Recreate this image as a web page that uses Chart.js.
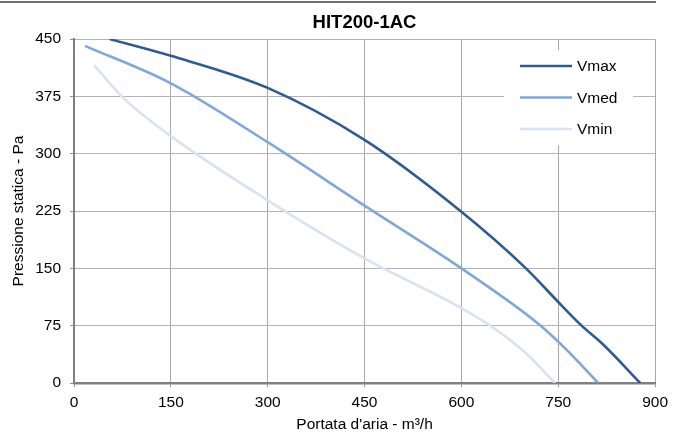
<!DOCTYPE html>
<html><head><meta charset="utf-8">
<script src="https://cdn.jsdelivr.net/npm/chart.js@4.4.0/dist/chart.umd.min.js"></script>
<style>html,body{margin:0;padding:0;background:#fff}#wrap{width:674px;height:435px}</style>
</head><body><div id="wrap"><canvas id="c" width="674" height="435"></canvas></div>
<script>
const chartTitle = 'HIT200-1AC';
const xTitle = "Portata d'aria - m³/h";
const yTitle = 'Pressione statica - Pa';
const seriesNames = ['Vmax', 'Vmed', 'Vmin'];
const xTicks = [0, 150, 300, 450, 600, 750, 900];
const yTicks = [0, 75, 150, 225, 300, 375, 450];

const vmaxFlow = [55, 150, 300, 450, 600, 700, 750, 785, 820, 877];
const vmaxPress = [450, 428, 386, 318, 224, 150, 106, 76, 50, 0];
const vmedFlow = [17, 150, 300, 450, 600, 720, 760, 812];
const vmedPress = [441, 392, 315, 232, 150, 77, 46, 0];
const vminFlow = [31, 75, 150, 300, 450, 600, 650, 700, 745];
const vminPress = [416, 374, 323, 239, 163, 98, 72, 39, 0];

const colors = ['#2f5b94', '#7ea7de', '#d7e3f3'];
const FONT = '"Liberation Sans", Arial, sans-serif';

const toPts = (xs, ys) => xs.map((x, i) => ({x: x, y: ys[i]}));
const flows = [vmaxFlow, vmedFlow, vminFlow];
const press = [vmaxPress, vmedPress, vminPress];

const datasets = seriesNames.map((n, i) => ({
  label: n,
  data: toPts(flows[i], press[i]),
  borderColor: colors[i],
  backgroundColor: colors[i],
  borderWidth: 2.6,
  pointRadius: 0,
  cubicInterpolationMode: 'monotone',
  fill: false
}));

const decor = {
  id: 'decor',
  beforeDraw(chart) {
    const ctx = chart.ctx;
    ctx.save();
    ctx.fillStyle = '#fff';
    ctx.fillRect(0, 0, chart.width, chart.height);
    ctx.strokeStyle = '#707070';
    ctx.lineWidth = 2;
    ctx.beginPath();
    ctx.moveTo(0, 2);
    ctx.lineTo(chart.chartArea.right + 1, 2);
    ctx.stroke();
    ctx.restore();
  },
  afterDraw(chart) {
    const ctx = chart.ctx;
    ctx.save();
    const bx = 504, by = 50, bw = 129, bh = 95;
    ctx.fillStyle = '#fff';
    ctx.fillRect(bx, by, bw, bh);
    ctx.font = '15.5px ' + FONT;
    ctx.textBaseline = 'middle';
    ctx.textAlign = 'left';
    chart.data.datasets.forEach((ds, i) => {
      const y = 66 + i * 31.5;
      ctx.strokeStyle = ds.borderColor;
      ctx.lineWidth = 2.6;
      ctx.beginPath();
      ctx.moveTo(520, y);
      ctx.lineTo(572, y);
      ctx.stroke();
      ctx.fillStyle = '#000';
      ctx.fillText(ds.label, 577, y + 1);
    });
    ctx.restore();
  }
};

new Chart(document.getElementById('c'), {
  type: 'line',
  data: {datasets: datasets},
  options: {
    responsive: false,
    animation: false,
    events: [],
    layout: {padding: {left: 0, right: 17, top: 0, bottom: 0}},
    plugins: {
      legend: {display: false},
      tooltip: {enabled: false},
      title: {
        display: true,
        text: chartTitle,
        fullSize: false,
        color: '#000',
        font: {family: FONT, size: 18.5, weight: 'bold', lineHeight: 1.2},
        padding: {top: 12, bottom: 4.8}
      }
    },
    scales: {
      x: {
        type: 'linear',
        min: 0, max: 900,
        afterFit(s) { s.height = 52; },
        afterBuildTicks(s) { s.ticks = xTicks.map(v => ({value: v})); },
        ticks: {color: '#000', font: {family: FONT, size: 15.5}, padding: 6, maxRotation: 0},
        grid: {color: '#a8a8a8', lineWidth: 1, tickLength: 4, tickColor: '#909090'},
        border: {color: '#808080', width: 2.5},
        title: {display: true, text: xTitle, color: '#000', font: {family: FONT, size: 15.5, lineHeight: 1.2}, padding: {top: 0, bottom: 1}}
      },
      y: {
        type: 'linear',
        min: 0, max: 450,
        afterFit(s) { s.width = 74; },
        afterBuildTicks(s) { s.ticks = yTicks.map(v => ({value: v})); },
        ticks: {color: '#000', font: {family: FONT, size: 15.5}, padding: 9},
        grid: {color: '#b4b4b4', lineWidth: 1, tickLength: 4, tickColor: '#909090'},
        border: {color: '#808080', width: 2},
        title: {display: true, text: yTitle, color: '#000', font: {family: FONT, size: 15.5, lineHeight: 1.2}, padding: {top: 9, bottom: 0}}
      }
    }
  },
  plugins: [decor]
});
</script>
</body></html>
